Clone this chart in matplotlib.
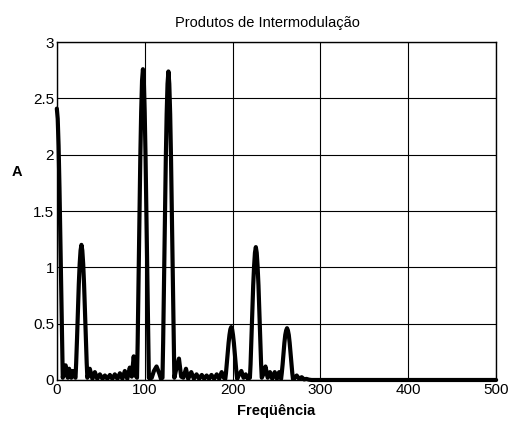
import matplotlib
matplotlib.use("Agg")
import matplotlib.pyplot as plt

plt.rcParams['font.family'] = ['Liberation Sans', 'DejaVu Sans']

# Amplitude spectrum samples: frequency and amplitude
freq = [
    0, 1, 2, 3, 4, 5, 6, 6.75,
    8.5, 10, 11.5, 12.5, 14, 15.5, 16.5, 18, 19.5,
    21.25, 22, 23, 24, 25, 26, 27, 28, 29, 30, 31, 32, 33, 34, 34.75,
    37.5, 40.5, 43.3, 46, 49, 52, 54.7, 57.5, 60.4, 63.2, 66, 69, 71.8,
    74.6, 77.4, 80.2, 83, 85.3, 87.5, 89.5,
    91.25, 92, 93, 94, 95, 96, 97, 98, 99, 100, 101, 102, 103, 104, 104.75,
    106, 108, 110.5, 113.5, 116.5, 118.5,
    120.25, 121, 122, 123, 124, 125, 126, 127, 128, 129, 130, 131, 132, 133, 133.75,
    136, 139, 141.5, 144, 147, 149.5, 153, 156, 159, 162, 165, 167.7,
    170.5, 173.3, 176, 179, 182, 184.8, 187.6, 190,
    191.75, 192.5, 193.5, 194.5, 195.5, 196.5, 197.5, 198.5, 199.5, 200.5,
    201.5, 202.5, 203.5, 204.5, 205.25,
    207, 210, 212.5, 215, 217.5,
    219.75, 220.5, 221.5, 222.5, 223.5, 224.5, 225.5, 226.5, 227.5, 228.5,
    229.5, 230.5, 231.5, 232.5, 233.25,
    235, 237.5, 240, 242.6, 245.2, 248, 250.5, 253,
    255.25, 256, 257, 258, 259, 260, 261, 262, 263, 264, 265, 266, 267, 268, 268.75,
    270, 273, 275.8, 278.7, 281.5, 284, 287, 290, 500,
]
amp = [
    2.41, 2.32, 2.08, 1.71, 1.25, 0.75, 0.29, 0.02,
    0.09, 0.13, 0.04, 0.02, 0.10, 0.03, 0.02, 0.08, 0.04,
    0.02, 0.15, 0.37, 0.62, 0.85, 1.03, 1.15, 1.20, 1.15, 1.03, 0.85, 0.62, 0.37, 0.15, 0.02,
    0.10, 0.01, 0.07, 0.01, 0.05, 0.01, 0.04, 0.01, 0.045, 0.01, 0.05, 0.01, 0.06,
    0.01, 0.08, 0.01, 0.11, 0.03, 0.21, 0.04,
    0.02, 0.33, 0.86, 1.44, 1.97, 2.38, 2.66, 2.76, 2.66, 2.38, 1.97, 1.44, 0.86, 0.33, 0.02,
    0.01, 0.02, 0.08, 0.12, 0.06, 0.01,
    0.02, 0.33, 0.86, 1.43, 1.95, 2.36, 2.63, 2.74, 2.63, 2.36, 1.95, 1.43, 0.86, 0.33, 0.02,
    0.10, 0.19, 0.03, 0.02, 0.10, 0.01, 0.07, 0.01, 0.05, 0.01, 0.045, 0.01,
    0.04, 0.01, 0.045, 0.01, 0.05, 0.01, 0.07, 0.02,
    0.01, 0.06, 0.15, 0.24, 0.33, 0.40, 0.45, 0.47, 0.45, 0.40,
    0.33, 0.24, 0.15, 0.06, 0.01,
    0.04, 0.08, 0.02, 0.05, 0.01,
    0.02, 0.14, 0.37, 0.61, 0.84, 1.01, 1.13, 1.18, 1.13, 1.01,
    0.84, 0.61, 0.37, 0.14, 0.02,
    0.05, 0.12, 0.02, 0.07, 0.01, 0.07, 0.01, 0.07,
    0.01, 0.06, 0.14, 0.24, 0.33, 0.40, 0.44, 0.46, 0.44, 0.40, 0.33, 0.24, 0.14, 0.06, 0.01,
    0.01, 0.04, 0.01, 0.025, 0.005, 0.01, 0.003, 0.0, 0.0,
]

x_ticks = [0, 100, 200, 300, 400, 500]
y_ticks = [0, 0.5, 1, 1.5, 2, 2.5, 3]
y_tick_labels = ['0', '0.5', '1', '1.5', '2', '2.5', '3']

fig = plt.figure(figsize=(5.12, 4.26), dpi=100)
ax = fig.add_axes([0.111, 0.108, 0.858, 0.793])

ax.plot(freq, amp, color='black', linewidth=3.0, solid_joinstyle='round',
        solid_capstyle='round', clip_on=False, zorder=3)

ax.set_xlim(0, 500)
ax.set_ylim(0, 3)
ax.set_xticks(x_ticks)
ax.set_yticks(y_ticks)
ax.set_yticklabels(y_tick_labels)
ax.grid(True, color='black', linewidth=0.8)
ax.tick_params(direction='in', length=0, labelsize=11, pad=2)
for s in ax.spines.values():
    s.set_linewidth(1.0)
    s.set_color('black')

ax.set_title('Produtos de Intermodulação', fontsize=10.5, pad=11, x=0.48)
ax.set_xlabel('Freqüência', fontsize=10.5, fontweight='bold', labelpad=5)
ax.set_ylabel('A', fontsize=10.5, fontweight='bold', rotation=0,
              va='center', ha='center')
ax.yaxis.set_label_coords(-0.091, 0.615)

fig.savefig('out.png', dpi=100)
